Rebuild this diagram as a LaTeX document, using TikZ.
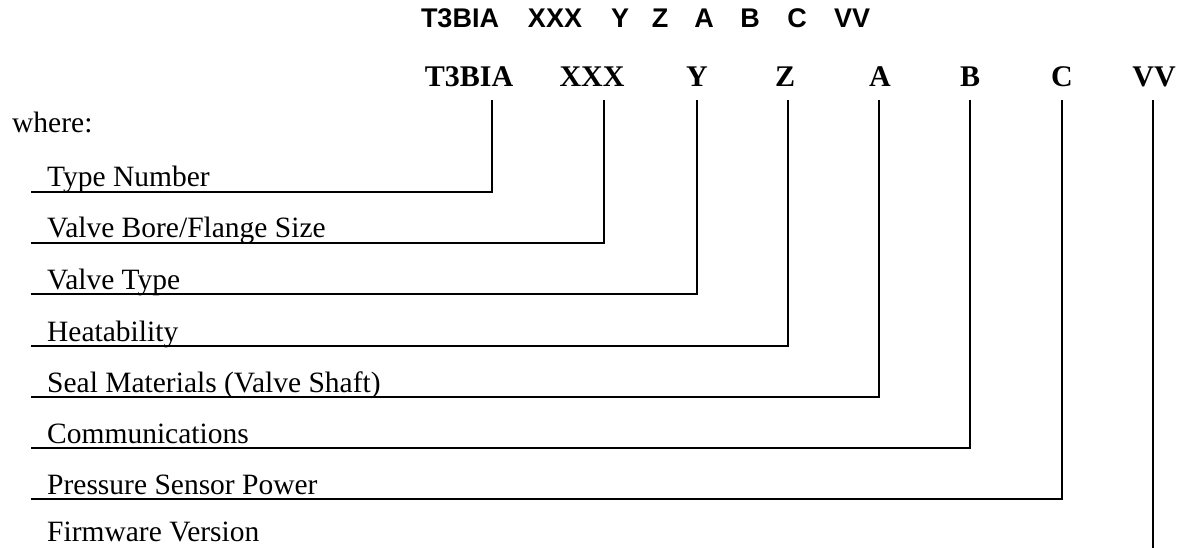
\documentclass[tikz,border=0pt]{standalone}
\usepackage{fontspec}
\setmainfont{Liberation Serif}
\newfontfamily\titlefont{Liberation Sans}
\begin{document}
\begin{tikzpicture}[x=1pt,y=-1pt,
  lbl/.style={anchor=base west, inner sep=0pt, font=\fontsize{29.5}{34}\selectfont},
  code/.style={anchor=base, inner sep=0pt, font=\fontsize{30}{35}\selectfont\bfseries},
  ttl/.style={anchor=base, inner sep=0pt, font=\titlefont\fontsize{27}{31}\selectfont\bfseries},
  conn/.style={line width=2.7pt, line join=miter}]
\useasboundingbox (0,0) rectangle (1181,548);
% title
\node[ttl] (t1) at (460,28) {T3BIA};
\node[ttl] (t2) at (555,28) {XXX};
\node[ttl] (t3) at (620,28) {Y};
\node[ttl] (t4) at (660,28) {Z};
\node[ttl] (t5) at (704,28) {A};
\node[ttl] (t6) at (750,28) {B};
\node[ttl] (t7) at (797,28) {C};
\node[ttl] (t8) at (852,28) {VV};
% code row
\node[code] (c1) at (469,87) {T3BIA};
\node[code] (c2) at (592,87) {XXX};
\node[code] (c3) at (697,87) {Y};
\node[code] (c4) at (785,87) {Z};
\node[code] (c5) at (880,87) {A};
\node[code] (c6) at (970,87) {B};
\node[code] (c7) at (1062,87) {C};
\node[code] (c8) at (1154,87) {VV};
% labels
\node[lbl] (w) at (12,133) {where:};
\node[lbl] (l1) at (47,187) {Type Number};
\node[lbl] (l2) at (47,238) {Valve Bore/Flange Size};
\node[lbl] (l3) at (47,289) {Valve Type};
\node[lbl] (l4) at (47,341) {Heatability};
\node[lbl] (l5) at (47,392) {Seal Materials (Valve Shaft)};
\node[lbl] (l6) at (47,443) {Communications};
\node[lbl] (l7) at (47,494) {Pressure Sensor Power};
\node[lbl] (l8) at (47,541) {Firmware Version};
% connector ends
\coordinate (v1) at (492,100);  \coordinate (s1) at (31,192);
\coordinate (v2) at (604,100);  \coordinate (s2) at (31,243);
\coordinate (v3) at (697,100);  \coordinate (s3) at (31,294);
\coordinate (v4) at (788,100);  \coordinate (s4) at (31,346);
\coordinate (v5) at (879,100);  \coordinate (s5) at (31,397);
\coordinate (v6) at (970,100);  \coordinate (s6) at (31,448);
\coordinate (v7) at (1062,100); \coordinate (s7) at (31,499);
\coordinate (v8) at (1153,100); \coordinate (s8) at (1153,548);
\draw[conn] (v1) |- (s1);
\draw[conn] (v2) |- (s2);
\draw[conn] (v3) |- (s3);
\draw[conn] (v4) |- (s4);
\draw[conn] (v5) |- (s5);
\draw[conn] (v6) |- (s6);
\draw[conn] (v7) |- (s7);
\draw[conn] (v8) -- (s8);
\end{tikzpicture}
\end{document}
